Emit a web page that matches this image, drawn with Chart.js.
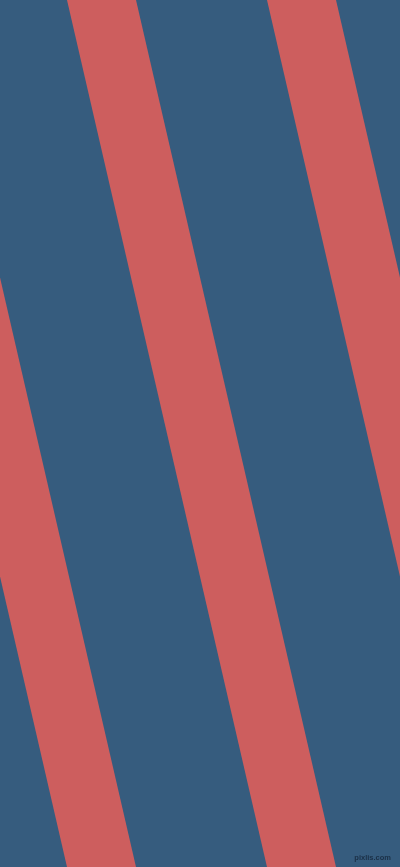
<!DOCTYPE html>
<html>
<head>
<meta charset="utf-8">
<script src="https://cdn.jsdelivr.net/npm/chart.js@4/dist/chart.umd.min.js"></script>
<style>
  html, body { margin: 0; padding: 0; background: #365c7e; overflow: hidden; }
  #wrap { position: relative; width: 400px; height: 867px; }
  #stripes { display: block; }
  #mark {
    position: absolute; right: 9px; top: 853px;
    font-family: "Liberation Sans", Arial, sans-serif; font-size: 7.5px; font-weight: bold;
    line-height: 9px; color: #1b3047;
  }
</style>
</head>
<body>
<div id="wrap">
  <canvas id="stripes" width="400" height="867"></canvas>
  <span id="mark">pixlis.com</span>
</div>
<script>
// stripe edges, x where each red band meets the top and the bottom of the picture
const yTop = 0;
const yBottom = 867;
const stripeTopLeft = [-133, 67, 267];
const stripeTopRight = [-64, 136, 336];
const stripeBottomLeft = [67, 267, 467];
const stripeBottomRight = [136, 336, 536];

const stripeColor = "#cd5e5e";
const groundColor = "#365c7e";

document.addEventListener("DOMContentLoaded", function () {
    const ctx = document.getElementById("stripes").getContext("2d");

    // one closed shape per band
    const datasets = stripeTopLeft.map((x, i) => ({
        data: [
            { x: stripeTopLeft[i], y: yTop },
            { x: stripeTopRight[i], y: yTop },
            { x: stripeBottomRight[i], y: yBottom },
            { x: stripeBottomLeft[i], y: yBottom },
            { x: stripeTopLeft[i], y: yTop }
        ],
        showLine: true,
        fill: "shape",
        backgroundColor: stripeColor,
        borderColor: stripeColor,
        borderWidth: 0,
        pointRadius: 0,
        tension: 0
    }));

    // paint the blue ground behind the bands
    const ground = {
        id: "ground",
        beforeDraw(chart) {
            const c = chart.ctx;
            c.save();
            c.fillStyle = groundColor;
            c.fillRect(0, 0, chart.width, chart.height);
            c.restore();
        }
    };

    new Chart(ctx, {
        type: "scatter",
        data: { datasets },
        options: {
            responsive: false,
            animation: false,
            layout: { padding: 0 },
            scales: {
                x: { type: "linear", min: 0, max: 400, display: false },
                y: { type: "linear", min: yTop, max: yBottom, reverse: true, display: false }
            },
            plugins: { legend: { display: false }, tooltip: { enabled: false } }
        },
        plugins: [ground]
    });
});
</script>
</body>
</html>
